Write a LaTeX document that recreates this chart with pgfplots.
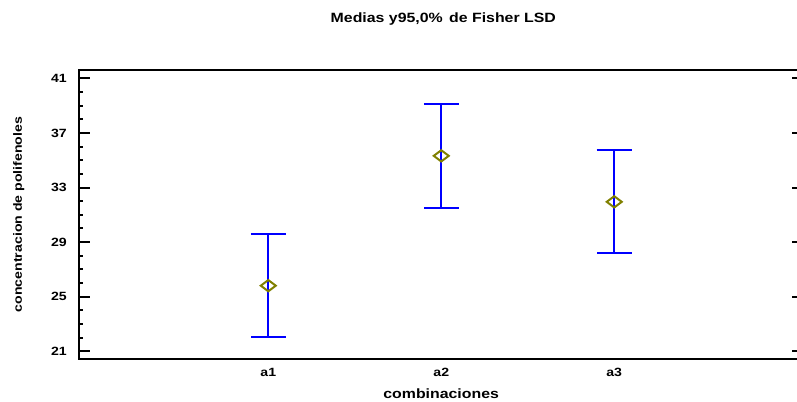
\documentclass[border=0pt]{standalone}
\usepackage{pgfplots}
\pgfplotsset{compat=1.18}
\usepackage{fontspec}
\setmainfont[FakeStretch=1.18]{Liberation Sans}
\definecolor{barblue}{RGB}{0,0,255}
\definecolor{meanolive}{RGB}{128,128,0}

% means and LSD half-widths
\pgfplotstableread{
x y e
1 25.81 3.78
2 35.32 3.79
3 31.95 3.78
}\lsddata

\begin{document}
\begin{tikzpicture}
\path[use as bounding box] (0,0) rectangle (797bp,402bp);
\begin{axis}[
  at={(79bp,43bp)}, anchor=south west,
  scale only axis, width=720bp, height=289bp,
  xmin=-0.094, xmax=4.068, ymin=20.44, ymax=41.61,
  axis line style={line width=2.6bp},
  xtick={1,2,3}, xticklabels={a1,a2,a3},
  xtick style={draw=none},
  ytick={21,25,...,41},
  minor y tick num=3,
  ytick pos=left,
  tick align=inside,
  major tick length=11bp, minor tick length=4.3bp,
  every tick/.append style={black, line width=2bp},
  /pgf/number format/assume math mode=true,
  ticklabel style={font=\fontsize{12}{14}\selectfont\bfseries},
  xticklabel style={anchor=base, yshift=-17bp},
  yticklabel style={anchor=east, inner sep=0pt, xshift=-12bp},
  title={Medias y95,0\%\hspace{2bp} de Fisher LSD},
  title style={font=\fontsize{13.5}{16}\selectfont\bfseries,
    at={(axis description cs:0.506,1.145)}, anchor=base},
  xlabel={combinaciones},
  xlabel style={font=\fontsize{13.5}{16}\selectfont\bfseries,
    at={(axis description cs:0.503,-0.138)}, anchor=base},
  ylabel={concentracion de polifenoles},
  ylabel style={font=\fontsize{12}{14}\selectfont\bfseries,
    at={(axis description cs:-0.0836,0.5)}, anchor=center},
  clip=false,
]
\addplot[barblue, only marks,
  mark=diamond, mark size=7.5bp,
  mark options={meanolive, rotate=90, line width=2bp},
  error bars/.cd, y dir=both, y explicit,
  error mark=|,
  error mark options={barblue, line width=2bp, mark size=17.5bp},
  error bar style={barblue, line width=2.2bp}]
  table[x=x, y=y, y error=e] {\lsddata};
\end{axis}
% short inward ticks on the right side
\begin{axis}[
  at={(79bp,43bp)}, anchor=south west,
  scale only axis, width=720bp, height=289bp,
  xmin=-0.094, xmax=4.068, ymin=20.44, ymax=41.61,
  hide x axis, axis y line*=right,
  y axis line style={draw=none},
  ytick={21,25,...,41}, yticklabels={},
  tick align=inside, major tick length=7bp,
  every tick/.append style={black, line width=2bp},
]
\end{axis}
\end{tikzpicture}
\end{document}
